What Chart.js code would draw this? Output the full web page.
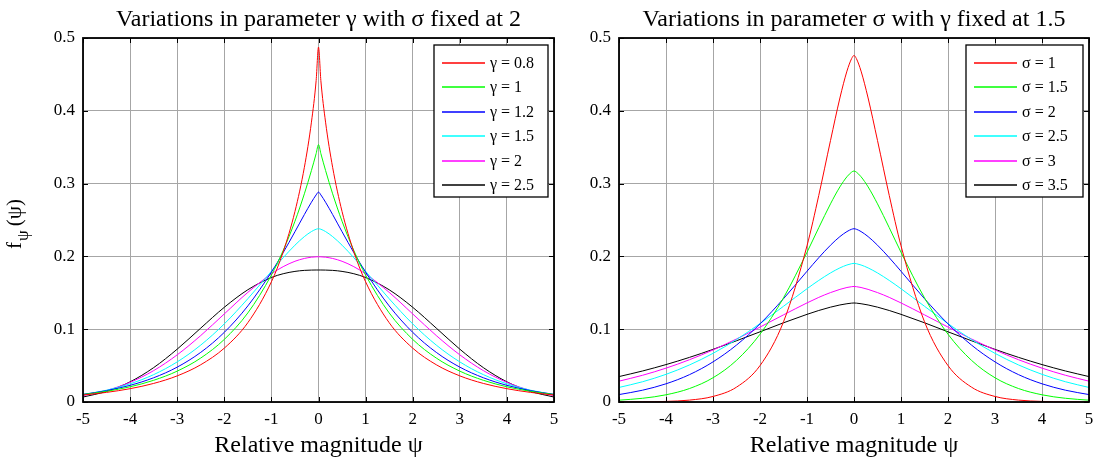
<!DOCTYPE html>
<html><head><meta charset="utf-8">
<script src="https://cdn.jsdelivr.net/npm/chart.js@4.4.1/dist/chart.umd.min.js"></script>
<style>
body{margin:0;background:#fff;width:1097px;height:460px;position:relative;overflow:hidden}
canvas{position:absolute;top:0}
#c1{left:0}#c2{left:560px}
</style></head>
<body>
<canvas id="c1" width="560" height="460"></canvas>
<canvas id="c2" width="537" height="460"></canvas>
<script>
// ---------- data ----------
const psi = [-5,-4.5,-4,-3.5,-3,-2.5,-2,-1.5,-1,-0.75,-0.5,-0.3,-0.15,-0.05,0,0.05,0.15,0.3,0.5,0.75,1,1.5,2,2.5,3,3.5,4,4.5,5];
const xTicks = [-5,-4,-3,-2,-1,0,1,2,3,4,5];
const yTicks = [0,0.1,0.2,0.3,0.4,0.5];

const gammaLabels = ['γ = 0.8','γ = 1','γ = 1.2','γ = 1.5','γ = 2','γ = 2.5'];
const gamma08 = [0.0096,0.0132,0.0183,0.0255,0.0359,0.0512,0.0740,0.1090,0.1651,0.2062,0.2617,0.3224,0.3844,0.4416,0.4874,0.4416,0.3844,0.3224,0.2617,0.2062,0.1651,0.1090,0.0740,0.0512,0.0359,0.0255,0.0183,0.0132,0.0096];
const gamma10 = [0.0103,0.0147,0.0209,0.0298,0.0424,0.0604,0.0860,0.1224,0.1744,0.2081,0.2483,0.2860,0.3180,0.3413,0.3536,0.3413,0.3180,0.2860,0.2483,0.2081,0.1744,0.1224,0.0860,0.0604,0.0424,0.0298,0.0209,0.0147,0.0103];
const gamma12 = [0.0105,0.0156,0.0229,0.0333,0.0479,0.0682,0.0957,0.1320,0.1784,0.2052,0.2339,0.2575,0.2744,0.2845,0.2883,0.2845,0.2744,0.2575,0.2339,0.2052,0.1784,0.1320,0.0957,0.0682,0.0479,0.0333,0.0229,0.0156,0.0105];
const gamma15 = [0.0102,0.0162,0.0250,0.0376,0.0551,0.0782,0.1073,0.1419,0.1796,0.1982,0.2154,0.2272,0.2341,0.2373,0.2380,0.2373,0.2341,0.2272,0.2154,0.1982,0.1796,0.1419,0.1073,0.0782,0.0551,0.0376,0.0250,0.0162,0.0102];
const gamma20 = [0.0088,0.0159,0.0270,0.0431,0.0648,0.0913,0.1210,0.1506,0.1760,0.1859,0.1933,0.1972,0.1989,0.1994,0.1995,0.1994,0.1989,0.1972,0.1933,0.1859,0.1760,0.1506,0.1210,0.0913,0.0648,0.0431,0.0270,0.0159,0.0088];
const gamma25 = [0.0068,0.0146,0.0277,0.0472,0.0726,0.1015,0.1301,0.1542,0.1710,0.1762,0.1794,0.1808,0.1812,0.1813,0.1813,0.1813,0.1812,0.1808,0.1794,0.1762,0.1710,0.1542,0.1301,0.1015,0.0726,0.0472,0.0277,0.0146,0.0068];

const sigmaLabels = ['σ = 1','σ = 1.5','σ = 2','σ = 2.5','σ = 3','σ = 3.5'];
const sigma10 = [0.0001,0.0002,0.0008,0.0026,0.0076,0.0204,0.0500,0.1102,0.2146,0.2837,0.3592,0.4176,0.4545,0.4718,0.4760,0.4718,0.4545,0.4176,0.3592,0.2837,0.2146,0.1102,0.0500,0.0204,0.0076,0.0026,0.0008,0.0002,0.0001];
const sigma15 = [0.0025,0.0051,0.0099,0.0185,0.0333,0.0572,0.0931,0.1431,0.2057,0.2394,0.2722,0.2955,0.3094,0.3158,0.3173,0.3158,0.3094,0.2955,0.2722,0.2394,0.2057,0.1431,0.0931,0.0572,0.0333,0.0185,0.0099,0.0051,0.0025];
const sigma20 = [0.0102,0.0162,0.0250,0.0376,0.0551,0.0782,0.1073,0.1419,0.1796,0.1982,0.2154,0.2272,0.2341,0.2373,0.2380,0.2373,0.2341,0.2272,0.2154,0.1982,0.1796,0.1419,0.1073,0.0782,0.0551,0.0376,0.0250,0.0162,0.0102];
const sigma25 = [0.0200,0.0278,0.0380,0.0509,0.0668,0.0858,0.1077,0.1315,0.1556,0.1670,0.1773,0.1842,0.1882,0.1900,0.1904,0.1900,0.1882,0.1842,0.1773,0.1670,0.1556,0.1315,0.1077,0.0858,0.0668,0.0509,0.0380,0.0278,0.0200];
const sigma30 = [0.0286,0.0367,0.0465,0.0581,0.0715,0.0866,0.1029,0.1197,0.1361,0.1437,0.1503,0.1547,0.1573,0.1584,0.1587,0.1584,0.1573,0.1547,0.1503,0.1437,0.1361,0.1197,0.1029,0.0866,0.0715,0.0581,0.0465,0.0367,0.0286];
const sigma35 = [0.0349,0.0426,0.0514,0.0613,0.0723,0.0841,0.0964,0.1088,0.1204,0.1257,0.1303,0.1333,0.1350,0.1358,0.1360,0.1358,0.1350,0.1333,0.1303,0.1257,0.1204,0.1088,0.0964,0.0841,0.0723,0.0613,0.0514,0.0426,0.0349];

const colors = ['#ff0000','#00ff00','#0000ff','#00ffff','#ff00ff','#000000'];

// ---------- drawing ----------
const SERIF = "'Liberation Serif', 'Times New Roman', serif";

function makeDatasets(labels, series){
  return series.map((arr,i)=>({
    label: labels[i],
    data: psi.map((x,j)=>({x:x, y:arr[j]})),
    borderColor: colors[i],
    backgroundColor: colors[i],
    borderWidth: 1,
    pointRadius: 0,
    cubicInterpolationMode: 'monotone',
    fill: false
  }));
}

function framePlugin(opt){
  return {
    id: 'frame',
    afterDraw(chart){
      const ctx = chart.ctx, a = chart.chartArea, xs = chart.scales.x, ys = chart.scales.y;
      ctx.save();
      ctx.strokeStyle = '#000';
      ctx.lineWidth = 1;
      ctx.beginPath();
      xTicks.forEach(v=>{
        const p = Math.round(xs.getPixelForValue(v)) + 0.5;
        ctx.moveTo(p, a.bottom); ctx.lineTo(p, a.bottom - 5);
        ctx.moveTo(p, a.top); ctx.lineTo(p, a.top + 5);
      });
      yTicks.forEach(v=>{
        const p = Math.round(ys.getPixelForValue(v)) + 0.5;
        ctx.moveTo(a.left, p); ctx.lineTo(a.left + 5, p);
        ctx.moveTo(a.right, p); ctx.lineTo(a.right - 5, p);
      });
      ctx.stroke();
      ctx.lineWidth = 1.8;
      ctx.strokeRect(a.left, a.top, a.right - a.left, a.bottom - a.top);

      // legend
      const L = opt.legend;
      ctx.fillStyle = '#fff';
      ctx.fillRect(L.x, L.y, L.w, L.h);
      ctx.strokeStyle = '#000';
      ctx.lineWidth = 1.3;
      ctx.strokeRect(L.x, L.y, L.w, L.h);
      ctx.font = '16px ' + SERIF;
      ctx.textBaseline = 'middle';
      ctx.textAlign = 'left';
      chart.data.datasets.forEach((d,i)=>{
        const yy = Math.round(L.y + 18 + i * 24.4);
        ctx.strokeStyle = colors[i];
        ctx.lineWidth = 1.3;
        ctx.beginPath();
        ctx.moveTo(L.x + 8, yy);
        ctx.lineTo(L.x + 51, yy);
        ctx.stroke();
        ctx.fillStyle = '#000';
        ctx.fillText(d.label, L.x + 56, yy + 1);
      });

      // title
      const cx = (a.left + a.right) / 2;
      ctx.fillStyle = '#000';
      ctx.font = '24px ' + SERIF;
      ctx.textAlign = 'center';
      ctx.textBaseline = 'alphabetic';
      ctx.fillText(opt.title, cx, 26);
      // x-axis title
      ctx.fillText('Relative magnitude ψ', cx, 452);

      // y-axis title
      if (opt.ylabel){
        ctx.save();
        ctx.translate(21, 224);
        ctx.rotate(-Math.PI/2);
        ctx.textAlign = 'left';
        ctx.font = '21px ' + SERIF;
        const w1 = ctx.measureText('f').width;
        ctx.font = '17px ' + SERIF;
        const w2 = ctx.measureText('ψ').width;
        ctx.font = '21px ' + SERIF;
        const w3 = ctx.measureText('(ψ)').width;
        const x0 = -(w1 + w2 + w3 + 5) / 2;
        ctx.fillText('f', x0, 0);
        ctx.font = '17px ' + SERIF;
        ctx.fillText('ψ', x0 + w1 + 1, 7);
        ctx.font = '21px ' + SERIF;
        ctx.fillText('(ψ)', x0 + w1 + w2 + 5, 0);
        ctx.restore();
      }
      ctx.restore();
    }
  };
}

function makeChart(id, labels, series, cfg){
  return new Chart(document.getElementById(id), {
    type: 'line',
    data: { datasets: makeDatasets(labels, series) },
    options: {
      responsive: false,
      animation: false,
      devicePixelRatio: 1,
      layout: { padding: { top: 38, right: cfg.padRight, left: 0, bottom: 0 } },
      plugins: { legend: { display: false }, title: { display: false }, tooltip: { enabled: false } },
      scales: {
        x: {
          type: 'linear', min: -5, max: 5,
          afterBuildTicks: s => { s.ticks = xTicks.map(v => ({ value: v })); },
          afterFit: s => { s.height = 58; s.paddingLeft = 0; s.paddingRight = 0; },
          grid: { color: '#a6a6a6', lineWidth: 1, drawTicks: false },
          border: { display: false },
          ticks: { padding: 7, color: '#000', font: { family: SERIF, size: 17 }, maxRotation: 0, autoSkip: false,
                   callback: v => String(v) }
        },
        y: {
          type: 'linear', min: 0, max: 0.5,
          afterBuildTicks: s => { s.ticks = yTicks.map(v => ({ value: v })); },
          afterFit: s => { s.width = cfg.yWidth; s.paddingTop = 0; s.paddingBottom = 0; },
          grid: { color: '#a6a6a6', lineWidth: 1, drawTicks: false },
          border: { display: false },
          ticks: { padding: 8, color: '#000', font: { family: SERIF, size: 17 }, autoSkip: false,
                   callback: v => String(+v.toFixed(1)) }
        }
      }
    },
    plugins: [framePlugin(cfg)]
  });
}

makeChart('c1', gammaLabels, [gamma08, gamma10, gamma12, gamma15, gamma20, gamma25], {
  padRight: 6, yWidth: 83, ylabel: true,
  title: 'Variations in parameter γ with σ fixed at 2',
  legend: { x: 434, y: 45, w: 114, h: 152 }
});
makeChart('c2', sigmaLabels, [sigma10, sigma15, sigma20, sigma25, sigma30, sigma35], {
  padRight: 8, yWidth: 59, ylabel: false,
  title: 'Variations in parameter σ with γ fixed at 1.5',
  legend: { x: 406, y: 45, w: 117, h: 152 }
});
</script>
</body></html>
